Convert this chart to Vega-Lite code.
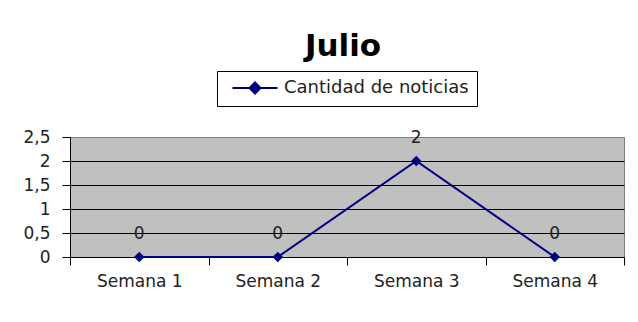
{
  "$schema": "https://vega.github.io/schema/vega-lite/v6.json",
  "width": 554,
  "height": 120,
  "autosize": {"type": "none"},
  "padding": {"left": 70, "top": 137, "right": 14, "bottom": 65},
  "background": "white",
  "data": {
    "values": [
      {"semana": "Semana 1", "noticias": 0, "serie": "Cantidad de noticias"},
      {"semana": "Semana 2", "noticias": 0, "serie": "Cantidad de noticias"},
      {"semana": "Semana 3", "noticias": 2, "serie": "Cantidad de noticias"},
      {"semana": "Semana 4", "noticias": 0, "serie": "Cantidad de noticias"}
    ]
  },
  "title": {
    "text": "Julio",
    "font": "DejaVu Sans",
    "fontSize": 31,
    "fontWeight": "bold",
    "color": "black",
    "anchor": "middle",
    "offset": 8,
    "dx": -4
  },
  "encoding": {
    "x": {
      "field": "semana",
      "type": "nominal",
      "sort": null,
      "scale": {"paddingInner": 0, "paddingOuter": 0},
      "axis": {
        "title": null,
        "labelAngle": 0,
        "tickBand": "extent",
        "grid": false,
        "domainColor": "black",
        "tickColor": "black",
        "tickSize": 8,
        "labelFont": "DejaVu Sans",
        "labelFontSize": 17,
        "labelColor": "#222222",
        "labelPadding": 8
      }
    },
    "y": {
      "field": "noticias",
      "type": "quantitative",
      "scale": {"domain": [0, 2.5], "nice": false},
      "axis": {
        "title": null,
        "values": [0, 0.5, 1, 1.5, 2, 2.5],
        "labelExpr": "replace(toString(datum.value), '.', ',')",
        "grid": true,
        "gridColor": {"condition": {"test": "datum.value == 2.5", "value": "#808080"}, "value": "black"},
        "gridOpacity": 1,
        "gridWidth": 1,
        "domainColor": "black",
        "tickColor": "black",
        "tickSize": 8,
        "labelPadding": 12,
        "labelFont": "DejaVu Sans",
        "labelFontSize": 17,
        "labelColor": "#222222"
      }
    }
  },
  "layer": [
    {
      "mark": {"type": "line", "strokeWidth": 2},
      "encoding": {
        "color": {
          "field": "serie",
          "type": "nominal",
          "scale": {"range": ["#000080"]},
          "legend": {
            "orient": "none",
            "legendX": 147,
            "legendY": -66,
            "title": null,
            "strokeColor": "black",
            "fillColor": "white",
            "padding": 8,
            "symbolOffset": 21,
            "labelOffset": 20,
            "symbolType": "M-4.1,0L4.1,0M0,-1L1,0L0,1L-1,0Z",
            "symbolSize": 121,
            "symbolStrokeWidth": 2,
            "labelFont": "DejaVu Sans",
            "labelFontSize": 18,
            "labelColor": "#222222",
            "labelLimit": 400,
            "encode": {
              "symbols": {
                "update": {
                  "fill": {"value": "#000080"},
                  "stroke": {"value": "#000080"},
                  "opacity": {"value": 1}
                }
              }
            }
          }
        }
      }
    },
    {
      "mark": {"type": "point", "shape": "diamond", "filled": true, "size": 110, "opacity": 1, "color": "#000080"}
    },
    {
      "mark": {"type": "text", "dy": -23, "baseline": "middle", "font": "DejaVu Sans", "fontSize": 17, "color": "#222222"},
      "encoding": {"text": {"field": "noticias", "type": "quantitative"}}
    }
  ],
  "config": {
    "view": {"fill": "#C0C0C0", "stroke": "#808080", "strokeWidth": 1}
  }
}
